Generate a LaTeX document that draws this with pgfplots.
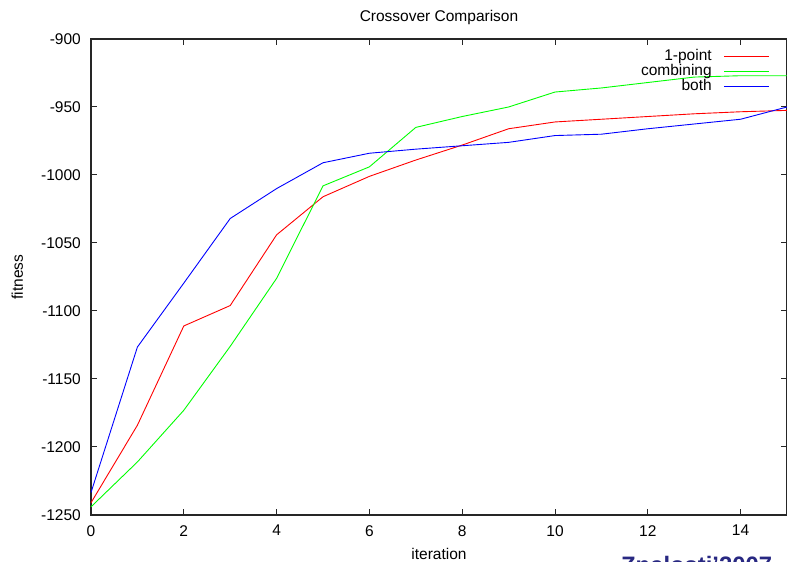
\documentclass[border=0pt]{standalone}
\usepackage{fontspec}
\setmainfont{Liberation Sans}
\usepackage{pgfplots}
\pgfplotsset{compat=1.18}
\definecolor{znal}{RGB}{40,40,130}
\begin{document}
\fontsize{15.5bp}{18bp}\selectfont
\begin{tikzpicture}
\begin{axis}[
  at={(91bp,47bp)}, anchor=south west,
  scale only axis, width=696bp, height=476bp,
  xmin=0, xmax=15, ymin=-1250, ymax=-900,
  xtick={0,2,4,6,8,10,12,14},
  xticklabels={0,2,4,6,8,10,12,14},
  ytick={-1250,-1200,-1150,-1100,-1050,-1000,-950,-900},
  yticklabels={-1250,-1200,-1150,-1100,-1050,-1000,-950,-900},
  tick pos=both, tick align=inside, major tick length=6bp,
  axis line style={line width=1.2bp, black!85},
  every tick/.style={line width=1bp, black!85},
  xticklabel style={anchor=north, inner sep=0pt, yshift=-10bp},
  yticklabel style={anchor=east, inner sep=0pt, xshift=-10bp},
  every axis title shift=0pt,
  title={Crossover Comparison},
  title style={at={(axis description cs:0.5,1.0378)}, anchor=base, inner sep=0pt},
  xlabel={iteration},
  xlabel style={at={(axis description cs:0.5,-0.0945)}, anchor=base, inner sep=0pt},
  ylabel={fitness},
  ylabel style={at={(axis description cs:-0.0977,0.5)}, anchor=base, rotate=0, inner sep=0pt},
  legend plot pos=right,
  legend cell align=right,
  legend image code/.code={\draw[#1, line width=1.1bp] (0bp,0bp) -- (45bp,0bp);},
  legend style={at={(axis description cs:0.9756,0.983)}, anchor=north east, draw=none, fill=none,
    inner sep=0pt, row sep=-2.5bp, column sep=10bp, font=\fontsize{15.5bp}{18bp}\selectfont},
  clip=false,
]
\addplot[color=red, line width=0.9bp] coordinates {
(0,-1241) (1,-1184) (2,-1111) (3,-1096) (4,-1044) (5,-1016) (6,-1001) (7,-989)
(8,-978) (9,-966) (10,-961) (11,-959) (12,-957) (13,-955) (14,-953.5) (15,-952.5)};
\addlegendentry{1-point}
\addplot[color=green, line width=0.9bp] coordinates {
(0,-1244) (1,-1211) (2,-1173) (3,-1126) (4,-1076) (5,-1008) (6,-994) (7,-965)
(8,-957) (9,-950) (10,-939) (11,-936) (12,-932) (13,-928) (14,-927) (15,-927)};
\addlegendentry{combining}
\addplot[color=blue, line width=0.9bp] coordinates {
(0,-1233.5) (1,-1126.5) (2,-1079.5) (3,-1032) (4,-1010) (5,-991) (6,-984) (7,-981)
(8,-978.5) (9,-976) (10,-971) (11,-970) (12,-966) (13,-962.5) (14,-959) (15,-950)};
\addlegendentry{both}
\end{axis}
\node[anchor=base west, inner sep=0pt, text=znal, font=\bfseries\fontsize{23.8bp}{26bp}\selectfont] at (621bp,-11bp) {Znalosti'2007};
\pgfresetboundingbox
\path[use as bounding box] (0,0) rectangle (787bp,562bp);
\end{tikzpicture}
\end{document}
